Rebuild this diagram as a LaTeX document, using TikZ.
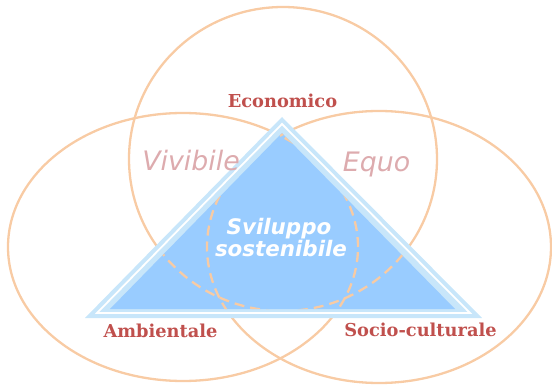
\documentclass[tikz,border=0pt]{standalone}
\usepackage{fontspec}
\newfontfamily\labfont{DejaVu Serif}
\newfontfamily\dvsans{DejaVu Sans}
\definecolor{peach}{HTML}{F8CBA4}
\definecolor{mainblue}{HTML}{99CCFF}
\definecolor{bandblue}{HTML}{C8E6FA}
\definecolor{labred}{HTML}{C0504D}
\definecolor{ghost}{HTML}{DDABAE}
\begin{document}
\begin{tikzpicture}[x=1pt,y=-1pt,
  ring/.style={draw=peach, line width=2.3pt},
  dring/.style={draw=peach, line width=2.3pt, dash pattern=on 10pt off 6pt},
  pillar/.style={text=labred, font=\labfont\bfseries\fontsize{17.8}{20}\selectfont, anchor=base, inner sep=0pt},
  quality/.style={text=ghost, font=\dvsans\itshape\fontsize{26.8}{30}\selectfont, anchor=base, inner sep=0pt},
  core/.style={text=white, font=\dvsans\bfseries\itshape\fontsize{21.4}{24}\selectfont, anchor=base, inner sep=0pt}]
\useasboundingbox (0,0) rectangle (552,385);
% circles
\draw[ring] (283,159) ellipse [x radius=154pt, y radius=152pt];
\draw[ring] (183,247) ellipse [x radius=175pt, y radius=134pt];
\draw[ring] (379,247) ellipse [x radius=172pt, y radius=136pt];
% triangle
\fill[bandblue] (282,117) -- (85,318) -- (482,318) -- cycle;
\draw[white, line width=1.8pt] (282,124) -- (97,313) -- (470,313) -- cycle;
\fill[mainblue] (282,133) -- (110,309) -- (455,309) -- cycle;
% dashed parts inside the triangle
\begin{scope}
\clip (282,133) -- (110,309) -- (455,309) -- cycle;
\draw[dring] (283,159) ellipse [x radius=154pt, y radius=152pt];
\draw[dring] (183,247) ellipse [x radius=175pt, y radius=134pt];
\draw[dring] (379,247) ellipse [x radius=172pt, y radius=136pt];
\end{scope}
% labels
\node[pillar] (eco) at (282.5,108) {Economico};
\node[pillar] (amb) at (160.5,337) {Ambientale};
\node[pillar] (soc) at (420.5,336) {Socio-culturale};
\node[quality] (viv) at (191,171) {Vivibile};
\node[quality] (equ) at (376.5,172) {Equo};
\node[core] (svi) at (279,235) {Sviluppo};
\node[core] (sos) at (281,256) {sostenibile};
\end{tikzpicture}
\end{document}
